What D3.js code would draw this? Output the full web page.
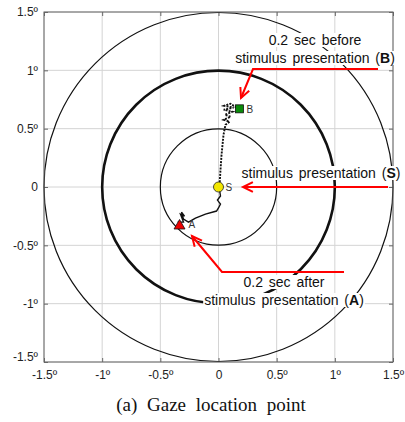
<!DOCTYPE html>
<meta charset="utf-8">
<script src="https://d3js.org/d3.v7.min.js"></script>
<style>
  body { margin: 0; background: #fff; }
  .tick-lbl { font-family: "Liberation Sans", Arial, sans-serif; font-size: 12px; fill: #222; }
  .note { font-family: "Liberation Sans", Arial, sans-serif; font-size: 14px; fill: #111; }
</style>
<body>
<svg id="chart" width="405" height="422"></svg>
<script>
  // tick values & labels
  var tickVals = [-1.5, -1, -0.5, 0, 0.5, 1, 1.5];
  var tickLabels = ["-1.5º", "-1º", "-0.5º", "0", "0.5º", "1º", "1.5º"];
  // circle radii (deg)
  var radii = [0.5, 1, 1.5];
  var radiusWidth = [1.2, 2.6, 1.2];

  // gaze trace before stimulus (B -> S), degrees
  var beforeX = [0.155, 0.103, 0.05, 0.13, 0.045, 0.12, 0.055, 0.105, 0.045, 0.095, 0.06, 0.043, 0.026, 0.017, 0.009];
  var beforeY = [0.68, 0.714, 0.696, 0.68, 0.662, 0.645, 0.619, 0.602, 0.576, 0.559, 0.533, 0.447, 0.275, 0.146, 0.017];
  // gaze trace after stimulus (S -> A)
  var afterX = [0.009, 0.009, 0.017, -0.009, 0.017, 0, -0.017, -0.112, -0.198, -0.258, -0.301, -0.318, -0.292, -0.327, -0.301, -0.344, -0.335];
  var afterY = [0.017, -0.026, -0.077, -0.112, -0.146, -0.18, -0.206, -0.232, -0.267, -0.301, -0.275, -0.215, -0.249, -0.232, -0.301, -0.301, -0.327];

  // markers
  var markNames = ["B", "S", "A"];
  var markX = [0.18, 0, -0.335];
  var markY = [0.67, 0, -0.33];

  var svg = d3.select("#chart");
  var pLeft = 44, pRight = 393, pTop = 12, pBottom = 362;

  var x = d3.scaleLinear().domain([-1.5, 1.5]).range([pLeft, pRight]);
  var y = d3.scaleLinear().domain([-1.5, 1.5]).range([pBottom, pTop]);

  // grid
  var grid = svg.append("g");
  tickVals.forEach(function (v) {
    grid.append("line").attr("x1", x(v)).attr("x2", x(v)).attr("y1", pTop).attr("y2", pBottom)
      .attr("stroke", "#d4d4d4").attr("stroke-width", 1);
    grid.append("line").attr("y1", y(v)).attr("y2", y(v)).attr("x1", pLeft).attr("x2", pRight)
      .attr("stroke", "#d4d4d4").attr("stroke-width", 1);
  });

  // axes (ticks inside, box)
  var xAxisB = d3.axisBottom(x).tickValues(tickVals).tickFormat(function (d, i) { return tickLabels[i]; })
    .tickSizeInner(-4).tickSizeOuter(0).tickPadding(8);
  var yAxisL = d3.axisLeft(y).tickValues(tickVals).tickFormat(function (d, i) { return tickLabels[i]; })
    .tickSizeInner(-4).tickSizeOuter(0).tickPadding(6);
  var gx = svg.append("g").attr("transform", "translate(0," + pBottom + ")").call(xAxisB);
  var gy = svg.append("g").attr("transform", "translate(" + pLeft + ",0)").call(yAxisL);
  svg.append("g").attr("transform", "translate(0," + pTop + ")")
    .call(d3.axisTop(x).tickValues(tickVals).tickFormat("").tickSizeInner(-4).tickSizeOuter(0));
  svg.append("g").attr("transform", "translate(" + pRight + ",0)")
    .call(d3.axisRight(y).tickValues(tickVals).tickFormat("").tickSizeInner(-4).tickSizeOuter(0));
  svg.selectAll(".domain").remove();
  svg.selectAll(".tick line").attr("stroke", "#666");
  [gx, gy].forEach(function (g) {
    g.selectAll("text").attr("class", "tick-lbl").attr("fill", "#222").style("font-size", "12px");
  });
  gy.selectAll(".tick").filter(function (d) { return d === -1.5; }).select("text").attr("dy", "-0.15em");

  // circles
  svg.append("g").selectAll("circle").data(radii).join("circle")
    .attr("cx", x(0)).attr("cy", y(0))
    .attr("r", function (d) { return x(d) - x(0); })
    .attr("fill", "none").attr("stroke", "#111")
    .attr("stroke-width", function (d, i) { return radiusWidth[i]; });

  svg.append("rect").attr("x", pLeft).attr("y", pTop).attr("width", pRight - pLeft).attr("height", pBottom - pTop)
    .attr("fill", "none").attr("stroke", "#666").attr("stroke-width", 1);

  // traces
  var line = d3.line().x(function (d) { return x(d[0]); }).y(function (d) { return y(d[1]); });
  svg.append("path").datum(d3.zip(beforeX, beforeY)).attr("d", line)
    .attr("fill", "none").attr("stroke", "#111").attr("stroke-width", 1.9).attr("stroke-dasharray", "2,1.2");
  svg.append("path").datum(d3.zip(afterX, afterY)).attr("d", line)
    .attr("fill", "none").attr("stroke", "#111").attr("stroke-width", 1.4);

  // markers
  svg.append("rect").attr("x", x(markX[0]) - 4).attr("y", y(markY[0]) - 4)
    .attr("width", 8).attr("height", 8).attr("fill", "#0a8a0a").attr("stroke", "#111").attr("stroke-width", 0.8);
  svg.append("circle").attr("cx", x(markX[1])).attr("cy", y(markY[1])).attr("r", 5)
    .attr("fill", "#f2e600").attr("stroke", "#222").attr("stroke-width", 0.8);
  var ax = x(markX[2]), ay = y(markY[2]);
  svg.append("path").attr("d", "M" + ax + "," + (ay - 6) + "L" + (ax + 5.5) + "," + (ay + 3.5) + "L" + (ax - 5.5) + "," + (ay + 3.5) + "Z")
    .attr("fill", "#ee0000").attr("stroke", "#111").attr("stroke-width", 0.8);
  svg.append("g").selectAll("text").data(markNames).join("text")
    .attr("x", function (d, i) { return x(markX[i]) + (i === 2 ? 9 : 7); })
    .attr("y", function (d, i) { return y(markY[i]) + (i === 2 ? 2 : 4); })
    .attr("font-family", "Liberation Sans, Arial, sans-serif").attr("font-size", 10).attr("fill", "#333")
    .text(function (d) { return d; });

  // annotations
  var notes = svg.append("g");
  function note(lines, cx, baseY) {
    lines.forEach(function (ln, i) {
      var t = notes.append("text").attr("class", "note").attr("x", cx).attr("y", baseY + i * 18)
        .attr("text-anchor", "middle").style("word-spacing", "2px");
      t.append("tspan").text(ln[0]);
      if (ln[1]) {
        t.append("tspan").text("(");
        t.append("tspan").attr("font-weight", "bold").text(ln[1]);
        t.append("tspan").text(")");
      }
      var bb = t.node().getBBox();
      notes.insert("rect", "text").attr("x", bb.x - 1).attr("y", bb.y + 1).attr("width", bb.width + 2)
        .attr("height", bb.height - 2).attr("fill", "#fff");
    });
  }
  note([["0.2 sec before"], ["stimulus presentation ", "B"]], 315, 45);
  note([["stimulus presentation ", "S"]], 321, 178);
  note([["0.2 sec after"], ["stimulus presentation ", "A"]], 284, 287);

  // red arrows
  function arrow(pts) {
    svg.append("path").attr("d", d3.line()(pts)).attr("fill", "none")
      .attr("stroke", "#ff0000").attr("stroke-width", 2);
    var p = pts[pts.length - 1], q = pts[pts.length - 2];
    var ang = Math.atan2(p[1] - q[1], p[0] - q[0]);
    var L = 11, a = 0.45;
    var h = [[p[0] - L * Math.cos(ang - a), p[1] - L * Math.sin(ang - a)], p,
             [p[0] - L * Math.cos(ang + a), p[1] - L * Math.sin(ang + a)]];
    svg.append("path").attr("d", d3.line()(h)).attr("fill", "none")
      .attr("stroke", "#ff0000").attr("stroke-width", 2);
  }
  arrow([[378, 69], [253, 69], [241, 98]]);
  arrow([[388, 187], [243, 187]]);
  arrow([[344, 272], [222, 272], [192, 236]]);

  // caption
  svg.append("text").attr("x", 211).attr("y", 411).attr("text-anchor", "middle")
    .attr("font-family", "Liberation Serif, Times New Roman, serif").attr("font-size", 19)
    .style("word-spacing", "5px").attr("fill", "#111")
    .text("(a)  Gaze location point");
</script>
</body>
